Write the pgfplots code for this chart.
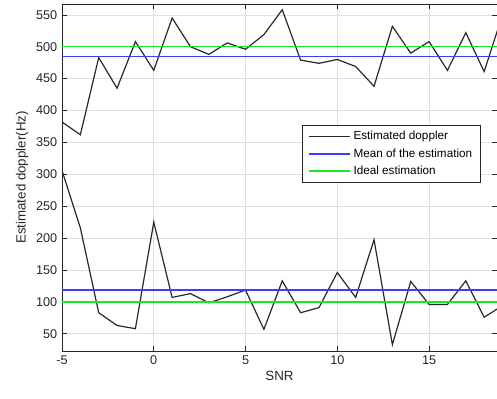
\documentclass[border=0pt]{standalone}
\usepackage{pgfplots}
\pgfplotsset{compat=1.18}
\usepackage{fontspec}
\setmainfont{Liberation Sans}
\definecolor{axgray}{RGB}{38,38,38}
\definecolor{gridc}{RGB}{223,223,223}
\definecolor{estc}{RGB}{40,40,40}
\definecolor{meanc}{RGB}{60,60,255}
\definecolor{idealc}{RGB}{30,230,30}
\begin{document}
\begin{tikzpicture}
\begin{axis}[
  scale only axis,
  width=326.25pt, height=260.25pt,
  xmin=-5, xmax=18.7, ymin=23, ymax=567,
  xtick={-5,0,5,10,15},
  ytick={50,100,150,200,250,300,350,400,450,500,550},
  grid=major,
  major grid style={gridc, line width=0.5pt},
  axis line style={axgray, line width=0.6pt},
  tick style={axgray, line width=0.5pt},
  tick align=inside,
  major tick length=3.5pt,
  ticklabel style={font=\fontsize{9.5}{11}\selectfont, text=axgray},
  /pgf/number format/assume math mode=true,
  xlabel={SNR},
  ylabel={Estimated doppler(Hz)},
  label style={font=\fontsize{10}{12}\selectfont, text=axgray},
  xlabel style={yshift=2pt},
  ylabel style={yshift=-1pt},
  legend style={at={(rel axis cs:0.552,0.651)}, anchor=north west,
    font=\fontsize{8.8}{10}\selectfont, draw=axgray, line width=0.5pt,
    fill=white, row sep=1pt, inner xsep=4pt, inner ysep=2.5pt,
    /tikz/every even column/.append style={column sep=2pt},
    legend cell align=left},
  legend image code/.code={\draw[#1] (0pt,0pt) -- (31pt,0pt);},
  clip=true,
]
\addplot[draw=estc, line width=0.9pt] coordinates {
(-5,382) (-4,362) (-3,483) (-2,435) (-1,508) (0,463) (1,545) (2,500) (3,488) (4,506)
(5,496) (6,519) (7,558) (8,479) (9,474) (10,480) (11,469) (12,438) (13,532) (14,490)
(15,508) (16,463) (17,522) (18,461) (19,550)};
\addlegendentry{Estimated doppler}
\addplot[draw=meanc, line width=1.3pt] coordinates {(-5,484.5) (19,484.5)};
\addlegendentry{Mean of the estimation}
\addplot[draw=idealc, line width=1.1pt] coordinates {(-5,500) (19,500)};
\addlegendentry{Ideal estimation}
\addplot[draw=estc, line width=0.9pt, forget plot] coordinates {
(-5,306) (-4,216) (-3,83) (-2,63) (-1,58) (0,225) (1,107) (2,113) (3,98.5) (4,108)
(5,118.5) (6,57) (7,133) (8,83) (9,91) (10,146) (11,107) (12,197.5) (13,33) (14,132)
(15,96) (16,96) (17,133) (18,76) (19,94)};
\addplot[draw=meanc, line width=1.3pt, forget plot] coordinates {(-5,119) (19,119)};
\addplot[draw=idealc, line width=1.1pt, forget plot] coordinates {(-5,100) (19,100)};
\end{axis}
\pgfresetboundingbox
\path (current axis.south west) ++(-46.5pt,-36pt) coordinate (bl);
\path (current axis.north east) ++(0pt,3pt) coordinate (tr);
\path (bl) rectangle (tr);
\end{tikzpicture}
\end{document}
